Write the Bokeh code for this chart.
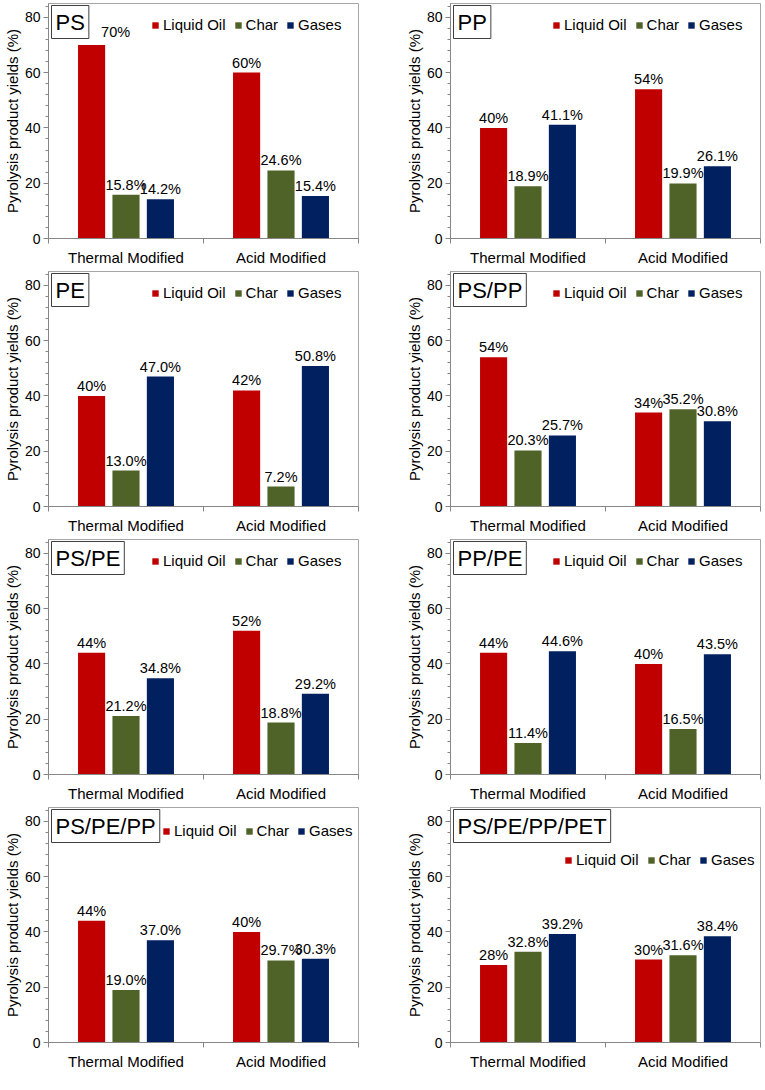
from bokeh.plotting import figure
from bokeh.layouts import gridplot
from bokeh.models import ColumnDataSource, FixedTicker, Label, LabelSet, Legend, LegendItem, Range1d
from bokeh.embed import file_html
from bokeh.resources import INLINE
from bokeh.core.properties import value

# ---------------- data ----------------
panels = ["PS", "PP", "PE", "PS/PP", "PS/PE", "PP/PE", "PS/PE/PP", "PS/PE/PP/PET"]
treatments = ["Thermal Modified", "Acid Modified"]
products = ["Liquid Oil", "Char", "Gases"]
liquid_oil = [[70, 60], [40, 54], [40, 42], [54, 34], [44, 52], [44, 40], [44, 40], [28, 30]]
char = [[15.8, 24.6], [18.9, 19.9], [13.0, 7.2], [20.3, 35.2], [21.2, 18.8], [11.4, 16.5], [19.0, 29.7], [32.8, 31.6]]
gases = [[14.2, 15.4], [41.1, 26.1], [47.0, 50.8], [25.7, 30.8], [34.8, 29.2], [44.6, 43.5], [37.0, 30.3], [39.2, 38.4]]
y_ticks = [0, 20, 40, 60, 80]
y_minor_ticks = list(range(0, 85, 4))

# ---------------- style ----------------
FONT = "Liberation Sans"
colors = ["#C00000", "#4F6228", "#002060"]
label_fmt = ["{:.0f}%", "{:.1f}%", "{:.1f}%"]
bar_offset = [-0.222, 0.0, 0.222]
BAR_W = 0.175
AXIS_C = "#868686"
FRAME_W = 310
FRAME_H = 235
LEG_W = 190
LEG_HALF = 15
# legend (gap from right of frame, gap from top of frame to legend centre)
legend_pos = [(17, 15), (18, 15), (17, 15), (18, 15), (17, 15), (18, 15), (6, 17), (6, 46)]
# manual label nudges (panel, product, treatment) -> (dx, dy) px
label_nudge = {(0, 0, 0): (24, -3)}

series = [liquid_oil, char, gases]


def make_panel(i):
    col = i % 2
    p = figure(frame_width=FRAME_W, frame_height=FRAME_H,
               x_range=Range1d(0, 2), y_range=Range1d(0, 85),
               output_backend="svg", toolbar_location=None,
               min_border_left=42, min_border_right=44 if col == 0 else 2,
               min_border_top=3, min_border_bottom=0)
    p.xgrid.visible = False
    p.ygrid.visible = False
    p.outline_line_color = "#a6a6a6"
    p.outline_line_width = 1
    p.background_fill_color = "white"
    p.border_fill_color = "white"

    yax = p.yaxis[0]
    yax.ticker = FixedTicker(ticks=y_ticks, minor_ticks=y_minor_ticks)
    yax.axis_line_color = AXIS_C
    yax.major_tick_line_color = AXIS_C
    yax.minor_tick_line_color = AXIS_C
    yax.major_tick_out = 5
    yax.major_tick_in = 0
    yax.minor_tick_out = 3
    yax.minor_tick_in = 0
    yax.major_label_text_font = FONT
    yax.major_label_text_font_size = "14px"
    yax.major_label_text_color = "black"
    yax.major_label_standoff = 3
    yax.axis_label = "Pyrolysis product yields (%)"
    yax.axis_label_text_font = FONT
    yax.axis_label_text_font_size = "15px"
    yax.axis_label_text_font_style = "normal"
    yax.axis_label_text_color = "black"
    yax.axis_label_standoff = 1

    xax = p.xaxis[0]
    xax.axis_label = None
    xax.ticker = FixedTicker(ticks=[0.5, 1.5], minor_ticks=[0, 1, 2])
    xax.major_label_overrides = {0.5: treatments[0], 1.5: treatments[1]}
    xax.axis_line_color = AXIS_C
    xax.major_tick_line_color = None
    xax.major_tick_out = 0
    xax.major_tick_in = 0
    xax.minor_tick_line_color = AXIS_C
    xax.minor_tick_out = 5
    xax.minor_tick_in = 0
    xax.major_label_text_font = FONT
    xax.major_label_text_font_size = "15px"
    xax.major_label_text_color = "black"
    xax.major_label_standoff = 5

    items = []
    for k, prod in enumerate(products):
        vals = series[k][i]
        n = len(vals)
        xs = [j + 0.5 + bar_offset[k] for j in range(n)]
        labs = [label_fmt[k].format(v) for v in vals]
        dx = [label_nudge.get((i, k, j), (0, 0))[0] for j in range(n)]
        dy = [5 - label_nudge.get((i, k, j), (0, 0))[1] for j in range(n)]
        src = ColumnDataSource(dict(x=xs, top=vals, lab=labs, dx=dx, dy=dy))
        r = p.vbar(x="x", top="top", width=BAR_W, bottom=0, source=src,
                   fill_color=colors[k], line_color=None)
        items.append(LegendItem(label=prod, renderers=[r]))
        p.add_layout(LabelSet(x="x", y="top", text="lab", source=src,
                              x_offset="dx", y_offset="dy",
                              text_align="center", text_baseline="alphabetic",
                              text_font=value(FONT), text_font_size=value("14.5px"),
                              text_color=value("black")))

    gap_r, gap_t = legend_pos[i]
    legend = Legend(items=items, orientation="horizontal",
                    location=(FRAME_W - gap_r - LEG_W, FRAME_H - gap_t - LEG_HALF),
                    glyph_width=8, glyph_height=8, label_standoff=4, spacing=8,
                    padding=0, margin=0, border_line_color=None,
                    background_fill_alpha=0, label_height=16,
                    label_text_font=FONT, label_text_font_size="15px",
                    label_text_color="black")
    p.add_layout(legend)

    p.add_layout(Label(x=3, y=FRAME_H - 2, x_units="screen", y_units="screen",
                       text=panels[i], anchor="top_left", padding=4,
                       text_font=FONT, text_font_size="22px", text_color="black",
                       border_line_color="#404040", border_line_width=1,
                       background_fill_color="white"))
    return p


figs = [make_panel(i) for i in range(len(panels))]
grid = gridplot([figs[0:2], figs[2:4], figs[4:6], figs[6:8]], toolbar_location=None)

open("out.html", "w").write(file_html(grid, INLINE))
